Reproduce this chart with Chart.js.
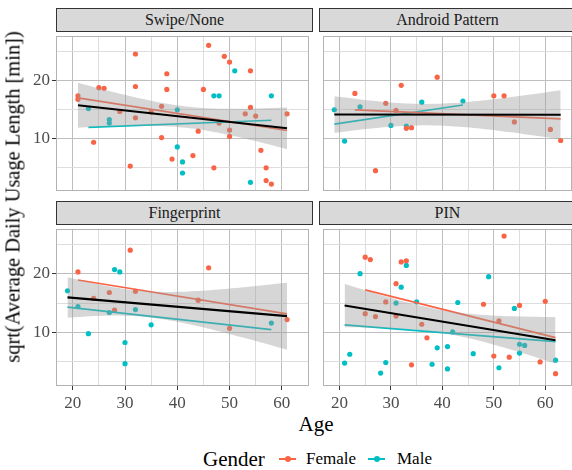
<!DOCTYPE html>
<html>
<head>
<meta charset="utf-8">
<script src="https://cdn.jsdelivr.net/npm/chart.js@4.4.0/dist/chart.umd.min.js"></script>
<style>
body{margin:0;width:572px;height:470px;overflow:hidden;position:relative;background:#fff;color:#000}
body, div{font-family:"Liberation Serif","Times New Roman",serif}
canvas{position:absolute}
.strip{position:absolute;background:#d9d9d9;border:1px solid #333;box-sizing:border-box;text-align:center;font-size:16px;color:#1a1a1a;height:24px;line-height:22px;width:257px}
.lbl{position:absolute;white-space:nowrap}
.key{position:absolute;width:17px;height:2px}
.key i{position:absolute;left:5.5px;top:-2px;width:6px;height:6px;border-radius:50%}
</style>
</head>
<body>
<div class="strip" style="left:56px;top:8px">Swipe/None</div>
<div class="strip" style="left:319px;top:8px">Android Pattern</div>
<div class="strip" style="left:56px;top:201px">Fingerprint</div>
<div class="strip" style="left:319px;top:201px">PIN</div>

<canvas id="swipe" width="293" height="163" style="left:20px;top:32px"></canvas>
<canvas id="android" width="257" height="163" style="left:319px;top:32px"></canvas>
<canvas id="finger" width="293" height="186" style="left:20px;top:225px"></canvas>
<canvas id="pin" width="257" height="186" style="left:319px;top:225px"></canvas>

<div class="lbl" style="left:13px;top:197px;font-size:20.4px;transform:translate(-50%,-50%) rotate(-90deg)">sqrt(Average Daily Usage Length [min])</div>
<div class="lbl" style="left:316px;top:424px;font-size:21px;transform:translate(-50%,-50%)">Age</div>

<div class="lbl" style="left:203px;top:459px;font-size:21px;transform:translateY(-50%)">Gender</div>
<div class="key" style="left:279px;top:458px;background:#FA6446"><i style="background:#FA6446"></i></div>
<div class="lbl" style="left:306px;top:459px;font-size:17px;transform:translateY(-50%)">Female</div>
<div class="key" style="left:368px;top:458px;background:#00BFC4"><i style="background:#00BFC4"></i></div>
<div class="lbl" style="left:397px;top:459px;font-size:17px;transform:translateY(-50%)">Male</div>

<script>
// values: age and sqrt(usage) per lock type and gender
const swipeFemaleAge = [46,32,49,50,54,38,25,26,32,38,45,21,21,29,37,32,35,54,53,55,61,48,50,50,44,37,24,43,39,56,31,47,57,57,58];
const swipeFemaleVal = [26.0,24.5,24.1,23.1,21.6,21.1,18.7,18.6,18.9,18.4,18.4,17.3,16.7,14.6,15.5,13.5,14.5,15.3,14.2,13.8,14.2,12.6,11.4,10.3,11.2,10.1,9.3,7.0,6.4,7.9,5.2,4.9,4.9,2.7,2.1];
const swipeMaleAge = [51,47,48,58,23,40,27,27,40,41,41,54];
const swipeMaleVal = [21.6,17.3,17.3,17.3,15.1,14.9,13.2,12.6,8.5,5.9,4.0,2.4];

const androidFemaleAge = [39,32,23,50,52,29,31,33,34,54,61,63,27];
const androidFemaleVal = [20.5,19.1,17.7,17.3,17.3,16.0,14.8,11.7,11.8,12.8,11.5,9.6,4.4];
const androidMaleAge = [44,36,24,19,30,33,21];
const androidMaleVal = [16.4,16.2,15.4,14.9,12.2,12.1,9.5];

const fingerFemaleAge = [31,46,21,27,32,24,28,44,50,61];
const fingerFemaleVal = [24.0,21.0,20.3,16.8,17.0,15.8,13.8,15.5,10.7,12.2];
const fingerMaleAge = [28,29,19,21,27,32,35,23,30,30,58];
const fingerMaleVal = [20.7,20.3,17.1,14.4,13.4,13.9,11.3,9.8,8.3,4.7,11.6];

const pinFemaleAge = [52,25,26,32,33,31,29,25,27,31,36,48,55,60,51,37,50,53,34,59,62];
const pinFemaleVal = [26.4,22.8,22.4,22.0,22.2,18.3,15.2,13.2,12.7,12.8,11.4,14.8,14.6,15.3,12.0,9.1,6.0,5.8,4.5,5.0,3.0];
const pinMaleAge = [33,24,49,32,31,35,43,54,42,55,56,22,39,41,46,55,21,29,38,41,51,28,62];
const pinMaleVal = [21.4,20.0,19.5,17.7,15.0,15.2,15.1,14.1,10.1,8.0,7.8,6.3,7.4,7.6,6.4,6.5,4.8,4.9,4.6,3.8,4.0,3.1,5.3];

const xBreaks = [20,25,30,35,40,45,50,55,60];
const yBreaks = [5,10,15,20,25];

const femaleColor = '#FA6446';
const maleColor = '#00BFC4';
const majorGrid = '#BEBEBE';
const minorGrid = '#DDDDDD';
const font = {family:'"Liberation Serif", "Times New Roman", serif', size:17};

// ordinary least squares, like geom_smooth(method = "lm")
function lm(xs, ys){
  const n = xs.length;
  let mx = 0, my = 0;
  for(let i=0;i<n;i++){ mx += xs[i]; my += ys[i]; }
  mx /= n; my /= n;
  let sxx = 0, sxy = 0;
  for(let i=0;i<n;i++){ sxx += (xs[i]-mx)**2; sxy += (xs[i]-mx)*(ys[i]-my); }
  const b = sxy/sxx, a = my - b*mx;
  let rss = 0;
  for(let i=0;i<n;i++){ rss += (ys[i] - a - b*xs[i])**2; }
  return {a, b, n, mx, sxx, s:Math.sqrt(rss/(n-2)), lo:Math.min(...xs), hi:Math.max(...xs)};
}
function tq(df){
  const z = 1.959964;
  return z + (z**3+z)/(4*df) + (5*z**5+16*z**3+3*z)/(96*df*df);
}
function fitLine(f){
  return [{x:f.lo, y:f.a+f.b*f.lo}, {x:f.hi, y:f.a+f.b*f.hi}];
}
function band(f, sign){
  const t = tq(f.n-2), out = [];
  for(let k=0;k<=60;k++){
    const x = f.lo + (f.hi-f.lo)*k/60;
    const se = f.s*Math.sqrt(1/f.n + (x-f.mx)**2/f.sxx);
    out.push({x, y:f.a + f.b*x + sign*t*se});
  }
  return out;
}
function pts(xs, ys){ return xs.map((x,i)=>({x, y:ys[i]})); }

const panelBorder = {
  id:'panelBorder',
  afterDatasetsDraw(chart){
    const a = chart.chartArea, c = chart.ctx;
    c.save();
    c.strokeStyle = '#B3B3B3';
    c.lineWidth = 1;
    c.strokeRect(a.left+0.5, a.top+0.5, a.right-a.left-1, a.bottom-a.top-1);
    c.restore();
  }
};

function noPad(s){ s.paddingLeft = 0; s.paddingRight = 0; s.paddingTop = 0; s.paddingBottom = 0; }

function makePanel(id, fAge, fVal, mAge, mVal, showX, showY){
  const ff = lm(fAge, fVal), fm = lm(mAge, mVal);
  const fAll = lm(fAge.concat(mAge), fVal.concat(mVal));
  return new Chart(document.getElementById(id), {
    type:'scatter',
    data:{datasets:[
      {data:pts(fAge,fVal), backgroundColor:femaleColor, pointRadius:2.6, borderWidth:0, order:5},
      {data:pts(mAge,mVal), backgroundColor:maleColor, pointRadius:2.6, borderWidth:0, order:5},
      {data:fitLine(ff), showLine:true, borderColor:femaleColor, borderWidth:1.7, pointRadius:0, order:4},
      {data:fitLine(fm), showLine:true, borderColor:maleColor, borderWidth:1.7, pointRadius:0, order:4},
      {data:band(fAll,1), showLine:true, borderColor:'rgba(0,0,0,0)', borderWidth:0, pointRadius:0,
        fill:'+1', backgroundColor:'rgba(153,153,153,0.4)', order:3},
      {data:band(fAll,-1), showLine:true, borderColor:'rgba(0,0,0,0)', borderWidth:0, pointRadius:0, fill:false, order:3},
      {data:fitLine(fAll), showLine:true, borderColor:'#000', borderWidth:2.2, pointRadius:0, order:1}
    ]},
    options:{
      responsive:false, animation:false, devicePixelRatio:1,
      layout:{padding:0},
      plugins:{legend:{display:false}, tooltip:{enabled:false}},
      scales:{
        x:{
          type:'linear', min:16.8, max:65.2,
          afterBuildTicks:s=>{ s.ticks = xBreaks.map(v=>({value:v})); },
          afterFit:s=>{ s.height = showX ? 25 : 0; noPad(s); },
          border:{display:false},
          grid:{
            color:c=>c.tick && c.tick.value%10===0 ? majorGrid : minorGrid,
            tickColor:c=>c.tick && c.tick.value%10===0 ? '#333' : 'rgba(0,0,0,0)',
            drawTicks:showX, tickLength:4
          },
          ticks:{display:showX, autoSkip:false, maxRotation:0, padding:3, color:'#4D4D4D', font,
            callback:v=>v%10===0 ? String(v) : ''}
        },
        y:{
          type:'linear', min:0.9, max:27.6,
          afterBuildTicks:s=>{ s.ticks = yBreaks.map(v=>({value:v})); },
          afterFit:s=>{ s.width = showY ? 36 : 0; noPad(s); },
          border:{display:false},
          grid:{
            color:c=>c.tick && c.tick.value%10===0 ? majorGrid : minorGrid,
            tickColor:c=>c.tick && c.tick.value%10===0 ? '#333' : 'rgba(0,0,0,0)',
            drawTicks:showY, tickLength:4
          },
          ticks:{display:showY, autoSkip:false, padding:2, color:'#4D4D4D', font,
            callback:v=>v%10===0 ? String(v) : ''}
        }
      }
    },
    plugins:[panelBorder]
  });
}

makePanel('swipe', swipeFemaleAge, swipeFemaleVal, swipeMaleAge, swipeMaleVal, false, true);
makePanel('android', androidFemaleAge, androidFemaleVal, androidMaleAge, androidMaleVal, false, false);
makePanel('finger', fingerFemaleAge, fingerFemaleVal, fingerMaleAge, fingerMaleVal, true, true);
makePanel('pin', pinFemaleAge, pinFemaleVal, pinMaleAge, pinMaleVal, true, false);
</script>
</body>
</html>
